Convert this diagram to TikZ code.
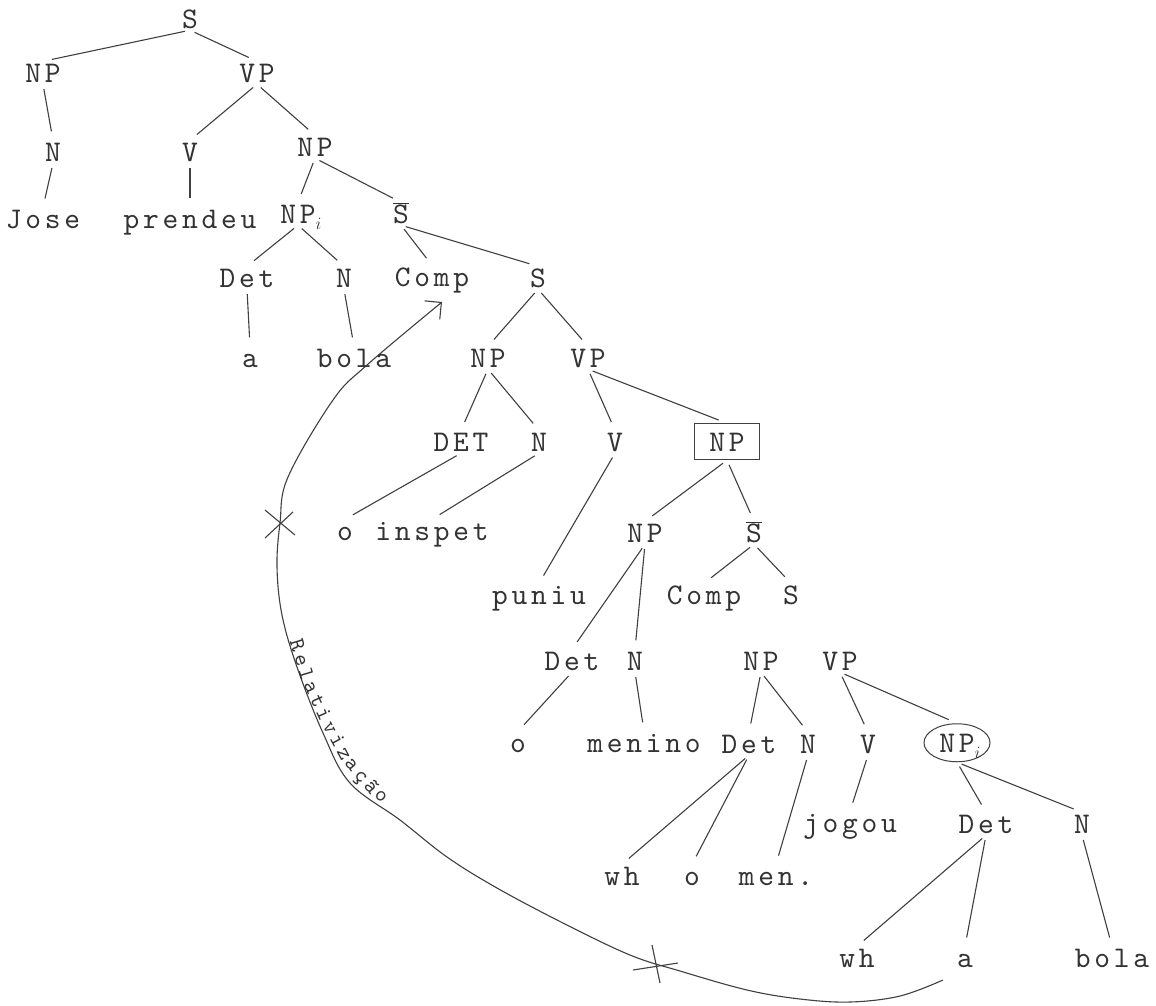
\documentclass[tikz,border=0pt]{standalone}
\usepackage{fontspec}
\newfontfamily\tw{lmmono10-regular.otf}[LetterSpace=12.5]
\newfontfamily\twl{lmmono10-regular.otf}
\usetikzlibrary{shapes.geometric,arrows.meta,decorations.text,calc}
\newcommand\subI{\rlap{\raisebox{-6pt}{\fontsize{19}{19}\selectfont$i$}}}
\newcommand\barS{$\overline{\hbox{S}}$}
\tikzset{
  lbl/.style={font=\tw\fontsize{30}{30}\selectfont, text=black!80, inner sep=2pt,
    text height=18.5pt, text depth=0pt, anchor=base},
  br/.style={draw=black!75, line width=1.1pt, shorten <=5pt, shorten >=9pt},
  curveline/.style={draw=black!75, line width=1.1pt},
}
\begin{document}
\begin{tikzpicture}[x=1pt,y=-1pt]
\useasboundingbox (0,0) rectangle (1156,1005);
\fill[white] (0,0) rectangle (1156,1005);
% nodes
\node[lbl] (s1) at (190,28) {S};
\node[lbl] (np1) at (43,82) {NP};
\node[lbl] (vp1) at (257,82) {VP};
\node[lbl] (n1) at (53,161) {N};
\node[lbl] (v1) at (190,161) {V};
\node[lbl] (np2) at (315,156) {NP};
\node[lbl] (jose) at (43,228) {Jose};
\node[lbl] (prendeu) at (190,228) {prendeu};
\node[lbl] (npi) at (298,223) {NP\subI};
\node[lbl] (sbar1) at (401,223) {\barS};
\node[lbl] (det1) at (247,287) {Det};
\node[lbl] (n2) at (344,287) {N};
\node[lbl] (comp1) at (432,286) {Comp};
\node[lbl] (s2) at (538,287) {S};
\node[lbl] (a1) at (250,367) {a};
\node[lbl] (bola1) at (354,367) {bola};
\node[lbl] (np3) at (488,367) {NP};
\node[lbl] (vp2) at (588,367) {VP};
\node[lbl] (dett) at (461,451) {DET};
\node[lbl] (n3) at (539,451) {N};
\node[lbl] (v2) at (615,451) {V};
\node[lbl,draw=black!75,line width=1pt,minimum width=65pt,minimum height=36pt] (npbox) at (727,451) {NP};
\node[lbl] (o1) at (345,540) {o};
\node[lbl] (inspet) at (432,540) {inspet};
\node[lbl] (np4) at (645,542) {NP};
\node[lbl] (sbar2) at (754,542) {\barS};
\node[lbl] (puniu) at (539,604) {puniu};
\node[lbl] (comp2) at (704,604) {Comp};
\node[lbl] (s3) at (791,604) {S};
\node[lbl] (det2) at (572,670) {Det};
\node[lbl] (n4) at (635,670) {N};
\node[lbl] (np5) at (761,670) {NP};
\node[lbl] (vp3) at (840,670) {VP};
\node[lbl] (o2) at (518,752) {o};
\node[lbl] (menino) at (644,752) {menino};
\node[lbl] (det3) at (749,753) {Det};
\node[lbl] (n5) at (808,753) {N};
\node[lbl] (v3) at (868,753) {V};
\node[lbl,draw=black!75,line width=1pt,ellipse,minimum width=66pt,minimum height=38pt] (npi2) at (957,752) {NP\subI};
\node[lbl] (jogou) at (850,832) {jogou};
\node[lbl] (det4) at (986,833) {Det};
\node[lbl] (n6) at (1082,833) {N};
\node[lbl] (wh1) at (622,885) {wh};
\node[lbl] (o3) at (692,885) {o};
\node[lbl] (men) at (776,885) {men.};
\node[lbl] (wh2) at (857,967) {wh};
\node[lbl] (a2) at (965,967) {a};
\node[lbl] (bola2) at (1112,967) {bola};
% branches
\foreach \a/\b in {s1/np1, s1/vp1, np1/n1, n1/jose, vp1/v1, vp1/np2, v1/prendeu,
  np2/npi, np2/sbar1, npi/det1, npi/n2, det1/a1, n2/bola1, sbar1/comp1, sbar1/s2,
  s2/np3, s2/vp2, np3/dett, np3/n3, dett/o1, n3/inspet, vp2/v2, vp2/npbox, v2/puniu,
  npbox/np4, npbox/sbar2, np4/det2, np4/n4, sbar2/comp2, sbar2/s3, det2/o2, n4/menino,
  np5/det3, np5/n5, vp3/v3, vp3/npi2, det3/wh1, det3/o3, n5/men, v3/jogou,
  npi2/det4, npi2/n6, det4/wh2, det4/a2, n6/bola2}
  \draw[br] (\a.south) -- (\b.north);
% relativization curve
\coordinate (tip) at ($(comp1.base)+(10,16)$);
\draw[curveline, -{Straight Barb[length=12pt,width=24pt]}]
  plot[smooth, tension=0.6] coordinates {(943,980) (900,996) (850,1002) (800,999) (747,990)
  (680,971) (630,955) (563,923) (497,888) (447,857) (400,820) (350,783) (323,733)
  (297,667) (282,615) (277,567) (280,523) (288,477) (333,400) (367,365) (tip)};
% crosses
\coordinate (xa) at (280,523);
\coordinate (xb) at (656,966);
\draw[curveline] (265,510) -- (295,535) (265,538) -- (293,512);
\draw[curveline] (652,945) -- (660,983) (633,970) -- (678,963);
% label along curve
\path[decorate, decoration={text along path,
   text={|\twl\fontsize{22}{22}\selectfont\kern3.5pt|Relativização}, text color=black!80,
   text align=center, raise=4pt}]
  (281,612) -- (285,640) -- (297,680) -- (315,720) -- (338,763) -- (365,795) -- (402,824);
\end{tikzpicture}
\end{document}
